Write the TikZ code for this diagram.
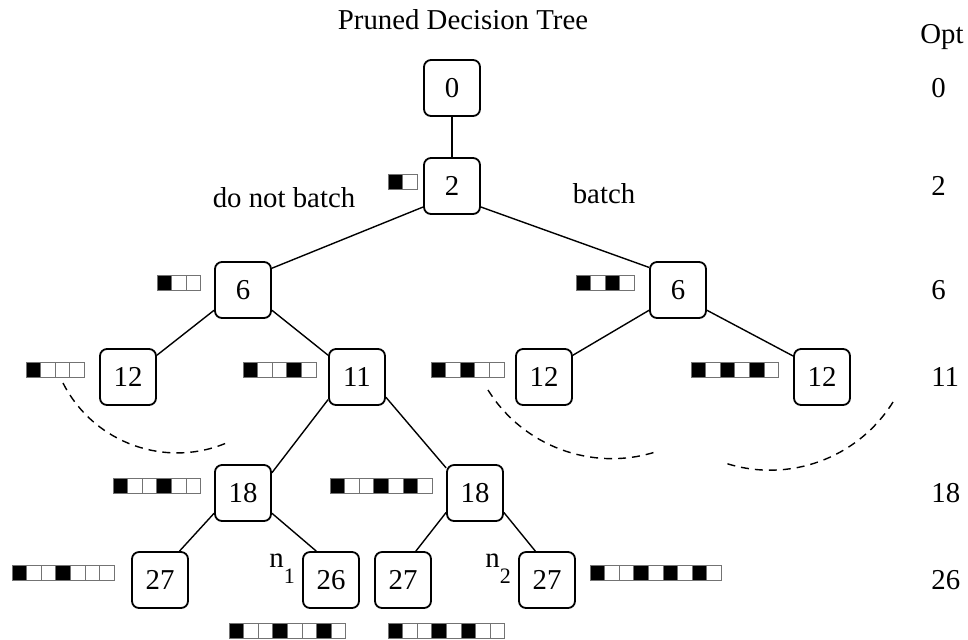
\documentclass[tikz,border=0pt]{standalone}
\usepackage{fontspec}
\setmainfont{Liberation Serif}

% one row of bit cells: left x, bottom y, pattern
\newcommand{\bitrow}[3]{%
  \foreach \b [count=\i from 0] in {#3} {
    \ifnum\b=1 \def\bfill{black}\else\def\bfill{white}\fi
    \draw [bitcell, fill=\bfill] ({#1+\i*14.6}, #2) rectangle ++(14.6, -15);
  }%
}

\begin{document}
\begin{tikzpicture}
  [x=0.5pt, y=-0.5pt, font=\fontsize{14.4}{16}\selectfont,
   tnode/.style={draw, rounded corners=3.5pt, line width=0.9pt, minimum size=28pt, inner sep=0pt},
   edge/.style={line width=0.7pt},
   bitcell/.style={draw=black!55, line width=0.4pt},
   prune/.style={dash pattern=on 4pt off 3pt, line width=0.7pt}]
  \useasboundingbox (0,0) rectangle (968,639);

  \node [anchor=base] (title) at (463, 29) {Pruned Decision Tree};
  \node [anchor=base west, inner sep=0pt] (opt) at (920, 43) {Opt};

  % tree
  \node [tnode] (n0) at (452, 88) {0};
  \node [tnode] (n2) at (452, 186) {2};
  \node [tnode] (n6a) at (243, 290) {6};
  \node [tnode] (n6b) at (678, 290) {6};
  \node [tnode] (n12a) at (128, 377) {12};
  \node [tnode] (n11) at (357, 377) {11};
  \node [tnode] (n12b) at (544, 377) {12};
  \node [tnode] (n12c) at (822, 377) {12};
  \node [tnode] (n18a) at (243, 493) {18};
  \node [tnode] (n18b) at (475, 493) {18};
  \node [tnode] (n27a) at (160, 580) {27};
  \node [tnode] (n26) at (331, 580) {26};
  \node [tnode] (n27b) at (403, 580) {27};
  \node [tnode] (n27c) at (547, 580) {27};

  \draw [edge] (n0) -- (n2);
  \draw [edge] (n2.-144) -- (n6a.37);
  \draw [edge] (n2.-36) -- (n6b.142);
  \draw [edge] (n6a.-145) -- (n12a.37);
  \draw [edge] (n6a.-35) -- (n11.143);
  \draw [edge] (n6b.-145) -- (n12b.37);
  \draw [edge] (n6b.-35) -- (n12c.144);
  \draw [edge] (n11.-142) -- (n18a.35);
  \draw [edge] (n11.-35) -- (n18b.139);
  \draw [edge] (n18a.-145) -- (n27a.56);
  \draw [edge] (n18a.-35) -- (n26.117);
  \draw [edge] (n18b.-146) -- (n27b.66);
  \draw [edge] (n18b.-34) -- (n27c.112);

  \node [anchor=base] (nobatch) at (284, 207) {do not batch};
  \node [anchor=base] (batch) at (604, 203) {batch};
  \node [anchor=base west, inner sep=0pt] (lab1) at (269, 567) {n\raisebox{-8pt}{\fontsize{11}{12}\selectfont 1}};
  \node [anchor=base west, inner sep=0pt] (lab2) at (485, 567) {n\raisebox{-8pt}{\fontsize{11}{12}\selectfont 2}};

  % pruned branches
  \draw [prune] (63, 383) arc [start angle=153, end angle=66, radius=128];
  \draw [prune] (488, 390) arc [start angle=148, end angle=73, radius=146];
  \draw [prune] (893, 402) arc [start angle=32, end angle=108, radius=145];

  % bit vectors
  \bitrow{388}{189}{1,0}
  \bitrow{157}{290}{1,0,0}
  \bitrow{576}{290}{1,0,1,0}
  \bitrow{26}{377}{1,0,0,0}
  \bitrow{243}{377}{1,0,0,1,0}
  \bitrow{431}{377}{1,0,1,0,0}
  \bitrow{691}{377}{1,0,1,0,1,0}
  \bitrow{113}{493}{1,0,0,1,0,0}
  \bitrow{330}{493}{1,0,0,1,0,1,0}
  \bitrow{12}{580}{1,0,0,1,0,0,0}
  \bitrow{229}{638}{1,0,0,1,0,0,1,0}
  \bitrow{388}{638}{1,0,0,1,0,1,0,0}
  \bitrow{590}{580}{1,0,0,1,0,1,0,1,0}

  % optimum per level
  \foreach \v/\y [count=\k] in {0/88, 2/186, 6/290, 11/377, 18/493, 26/580}
    \node [anchor=west, inner sep=0pt] (opt\k) at (931, \y) {\v};
\end{tikzpicture}
\end{document}
